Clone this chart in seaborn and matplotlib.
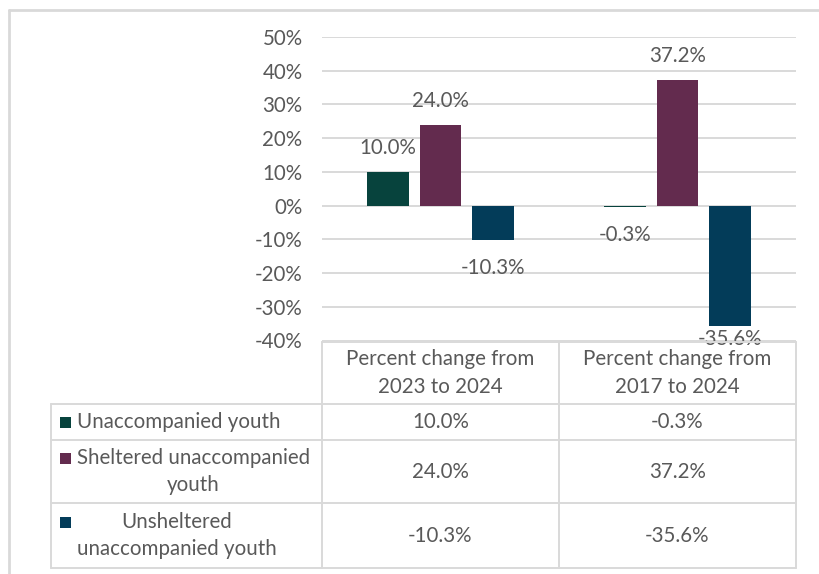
import pandas as pd
import numpy as np
import matplotlib
matplotlib.use("Agg")
from matplotlib import pyplot as plt
from matplotlib.lines import Line2D
from matplotlib.patches import Rectangle
import seaborn as sns

# data
periods = ["Percent change from\n2023 to 2024", "Percent change from\n2017 to 2024"]
series = ["Unaccompanied youth", "Sheltered unaccompanied\nyouth", "Unsheltered\nunaccompanied youth"]
vals_unacc = [10.0, -0.3]
vals_shelt = [24.0, 37.2]
vals_unshelt = [-10.3, -35.6]
colors = ["#07433D", "#632B4E", "#033C59"]
yticks = list(range(-40, 51, 10))

rows = []
for s, vals in zip(series, [vals_unacc, vals_shelt, vals_unshelt]):
    for p, v in zip(periods, vals):
        rows.append({"period": p, "series": s, "change": v})
df = pd.DataFrame(rows)

sns.set_style("white")
plt.rcParams['font.family'] = ['Lato', 'DejaVu Sans']
txt = "#595959"
grid = "#D9D9D9"
fs = 14.8

W, H = 820, 574
fig = plt.figure(figsize=(W / 100, H / 100), dpi=100)

def fx(x):
    return x / W

def fy(y):
    return 1 - y / H

# plot area in pixels
L, R, T, B = 322, 796, 37, 340.5
ax = fig.add_axes([fx(L), fy(B), fx(R - L), (B - T) / H])

sns.barplot(data=df, x="period", y="change", hue="series", hue_order=series,
            palette=colors, saturation=1, width=0.665, gap=0.21,
            errorbar=None, legend=False, ax=ax, linewidth=0)

ax.set_ylim(-40, 50)
ax.set_xlim(-0.5, 1.5)
ax.set_yticks(yticks)
ax.set_yticklabels([f"{v}%" for v in yticks], color=txt, fontsize=fs)
ax.tick_params(axis="y", length=0, pad=14)
ax.set_xticks([])
ax.set_xlabel("")
ax.set_ylabel("")
for sp in ax.spines.values():
    sp.set_visible(False)
ax.yaxis.grid(True, color=grid, linewidth=1.4)
ax.set_axisbelow(True)

# data labels (outside end)
px_per_unit = (B - T) / 90
for cont in ax.containers:
    for bar in cont:
        val = bar.get_y() + bar.get_height() if bar.get_y() == 0 else bar.get_y()
        if val >= 0:
            ly = val + 24 / px_per_unit
        else:
            ly = max(val - 28 / px_per_unit, -39.6)
        ax.text(bar.get_x() + bar.get_width() / 2, ly, f"{val:.1f}%",
                ha="center", va="center", color=txt, fontsize=fs, clip_on=False)

# outer chart border (top-left visible)
fig.add_artist(Line2D([fx(9.5), 1], [fy(9.5), fy(9.5)], color=grid, lw=2))
fig.add_artist(Line2D([fx(9.5), fx(9.5)], [fy(9.5), 0], color=grid, lw=2))

# data table
TL, C1, C2, TR = 51, 322, 559, 796
ys = [342, 404, 440, 503, 568]

def hline(y, x0, x1):
    fig.add_artist(Line2D([fx(x0), fx(x1)], [fy(y), fy(y)], color=grid, lw=1.4))

def vline(x, y0, y1):
    fig.add_artist(Line2D([fx(x), fx(x)], [fy(y0), fy(y1)], color=grid, lw=1.4))

hline(ys[0], C1, TR)
for y in ys[1:]:
    hline(y, TL, TR)
vline(TL, ys[1], ys[-1])
for x in (C1, C2, TR):
    vline(x, ys[0], ys[-1])

col_cx = [(C1 + C2) / 2, (C2 + TR) / 2]
hdr_cy = (ys[0] + ys[1]) / 2
for cx, p in zip(col_cx, periods):
    fig.text(fx(cx), fy(hdr_cy), p, ha="center", va="center", color=txt,
             fontsize=fs, linespacing=1.5)

all_vals = [vals_unacc, vals_shelt, vals_unshelt]
for i, (s, vals, c) in enumerate(zip(series, all_vals, colors)):
    y0, y1 = ys[i + 1], ys[i + 2]
    cy = (y0 + y1) / 2
    fig.text(fx(77), fy(cy), s, ha="left", va="center", multialignment="center",
             color=txt, fontsize=fs, linespacing=1.45)
    nlines = s.count("\n") + 1
    key_y = cy - (nlines - 1) * 13.5
    fig.add_artist(Rectangle((fx(60), fy(key_y + 5.5)), fx(11), 11 / H,
                             facecolor=c, edgecolor="none"))
    for cx, v in zip(col_cx, vals):
        fig.text(fx(cx), fy(cy), f"{v:.1f}%", ha="center", va="center",
                 color=txt, fontsize=fs)

fig.savefig("out.png", dpi=100)
